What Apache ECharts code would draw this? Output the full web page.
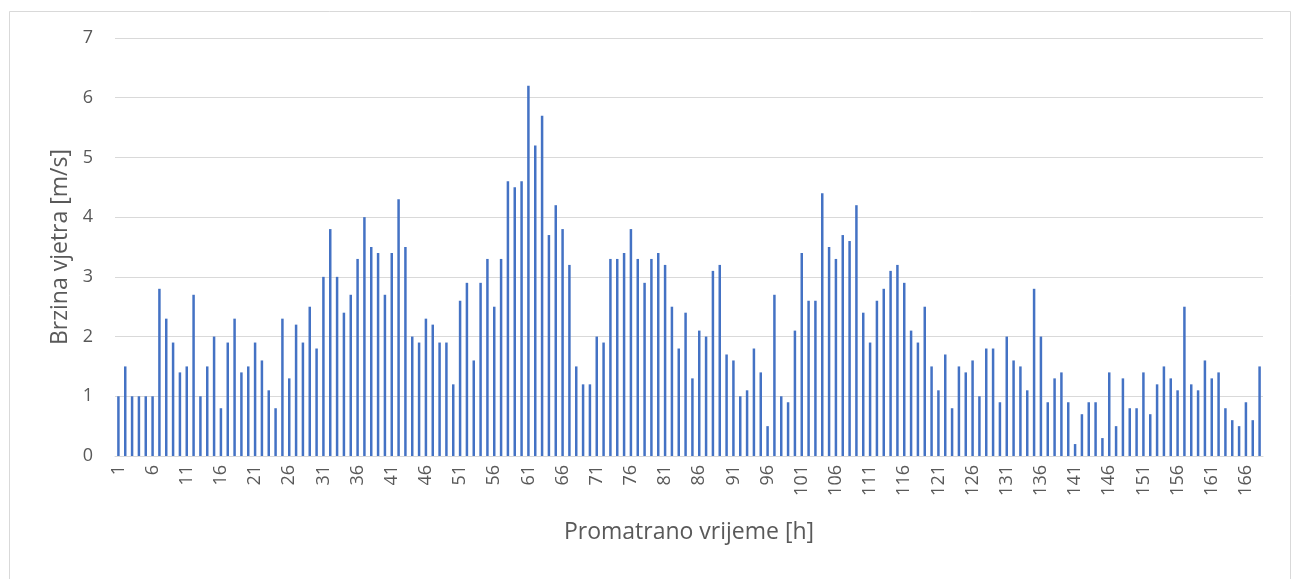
<!DOCTYPE html>
<html>
<head>
<meta charset="utf-8">
<title>Brzina vjetra</title>
<script src="https://cdn.jsdelivr.net/npm/echarts@6/dist/echarts.min.js"></script>
<style>
  html, body { margin: 0; padding: 0; background: #fff; }
  #chart { width: 1293px; height: 579px; }
</style>
</head>
<body>
<div id="chart"></div>
<script>
// brzina vjetra [m/s] za svaki sat, 1 .. 168
var speeds = [
  1.0, 1.5, 1.0, 1.0, 1.0, 1.0, 2.8, 2.3, 1.9, 1.4,
  1.5, 2.7, 1.0, 1.5, 2.0, 0.8, 1.9, 2.3, 1.4, 1.5,
  1.9, 1.6, 1.1, 0.8, 2.3, 1.3, 2.2, 1.9, 2.5, 1.8,
  3.0, 3.8, 3.0, 2.4, 2.7, 3.3, 4.0, 3.5, 3.4, 2.7,
  3.4, 4.3, 3.5, 2.0, 1.9, 2.3, 2.2, 1.9, 1.9, 1.2,
  2.6, 2.9, 1.6, 2.9, 3.3, 2.5, 3.3, 4.6, 4.5, 4.6,
  6.2, 5.2, 5.7, 3.7, 4.2, 3.8, 3.2, 1.5, 1.2, 1.2,
  2.0, 1.9, 3.3, 3.3, 3.4, 3.8, 3.3, 2.9, 3.3, 3.4,
  3.2, 2.5, 1.8, 2.4, 1.3, 2.1, 2.0, 3.1, 3.2, 1.7,
  1.6, 1.0, 1.1, 1.8, 1.4, 0.5, 2.7, 1.0, 0.9, 2.1,
  3.4, 2.6, 2.6, 4.4, 3.5, 3.3, 3.7, 3.6, 4.2, 2.4,
  1.9, 2.6, 2.8, 3.1, 3.2, 2.9, 2.1, 1.9, 2.5, 1.5,
  1.1, 1.7, 0.8, 1.5, 1.4, 1.6, 1.0, 1.8, 1.8, 0.9,
  2.0, 1.6, 1.5, 1.1, 2.8, 2.0, 0.9, 1.3, 1.4, 0.9,
  0.2, 0.7, 0.9, 0.9, 0.3, 1.4, 0.5, 1.3, 0.8, 0.8,
  1.4, 0.7, 1.2, 1.5, 1.3, 1.1, 2.5, 1.2, 1.1, 1.6,
  1.3, 1.4, 0.8, 0.6, 0.5, 0.9, 0.6, 1.5
];

// sati 1..168
var hours = [];
for (var i = 1; i <= speeds.length; i++) {
  hours.push(String(i));
}

var yTicks = [0, 1, 2, 3, 4, 5, 6, 7];

var xTitle = "Promatrano vrijeme [h]";
var yTitle = "Brzina vjetra [m/s]";

var txt = "#595959";
var grid = "#D9D9D9";
var font = "'Open Sans', 'Noto Sans', sans-serif";

var chart = echarts.init(document.getElementById("chart"));

chart.setOption({
  animation: false,
  backgroundColor: "#fff",
  graphic: [
    {
      type: "rect",
      left: 7,
      top: 9,
      shape: { width: 1281, height: 600 },
      style: { fill: "none", stroke: grid, lineWidth: 1 },
      silent: true
    }
  ],
  grid: {
    left: 115,
    right: 30,
    top: 38,
    bottom: 123,
    containLabel: false
  },
  xAxis: {
    type: "category",
    data: hours,
    boundaryGap: true,
    name: xTitle,
    nameLocation: "middle",
    nameGap: 65,
    nameTextStyle: { color: txt, fontSize: 23, fontFamily: font },
    axisLine: { show: true, lineStyle: { color: grid, width: 1 } },
    axisTick: { show: false },
    axisLabel: {
      interval: 4,
      rotate: 90,
      margin: 9,
      color: txt,
      fontSize: 18,
      fontFamily: font
    },
    splitLine: { show: false }
  },
  yAxis: {
    type: "value",
    min: yTicks[0],
    max: yTicks[yTicks.length - 1],
    interval: 1,
    name: yTitle,
    nameLocation: "middle",
    nameGap: 42,
    nameTextStyle: { color: txt, fontSize: 23, fontFamily: font },
    axisLine: { show: false },
    axisTick: { show: false },
    axisLabel: { color: txt, fontSize: 18, fontFamily: font, margin: 22 },
    splitLine: { lineStyle: { color: grid, width: 1 } }
  },
  series: [
    {
      type: "bar",
      data: speeds,
      barWidth: 2.5,
      itemStyle: { color: "#4472C4" }
    }
  ]
});
</script>
</body>
</html>
